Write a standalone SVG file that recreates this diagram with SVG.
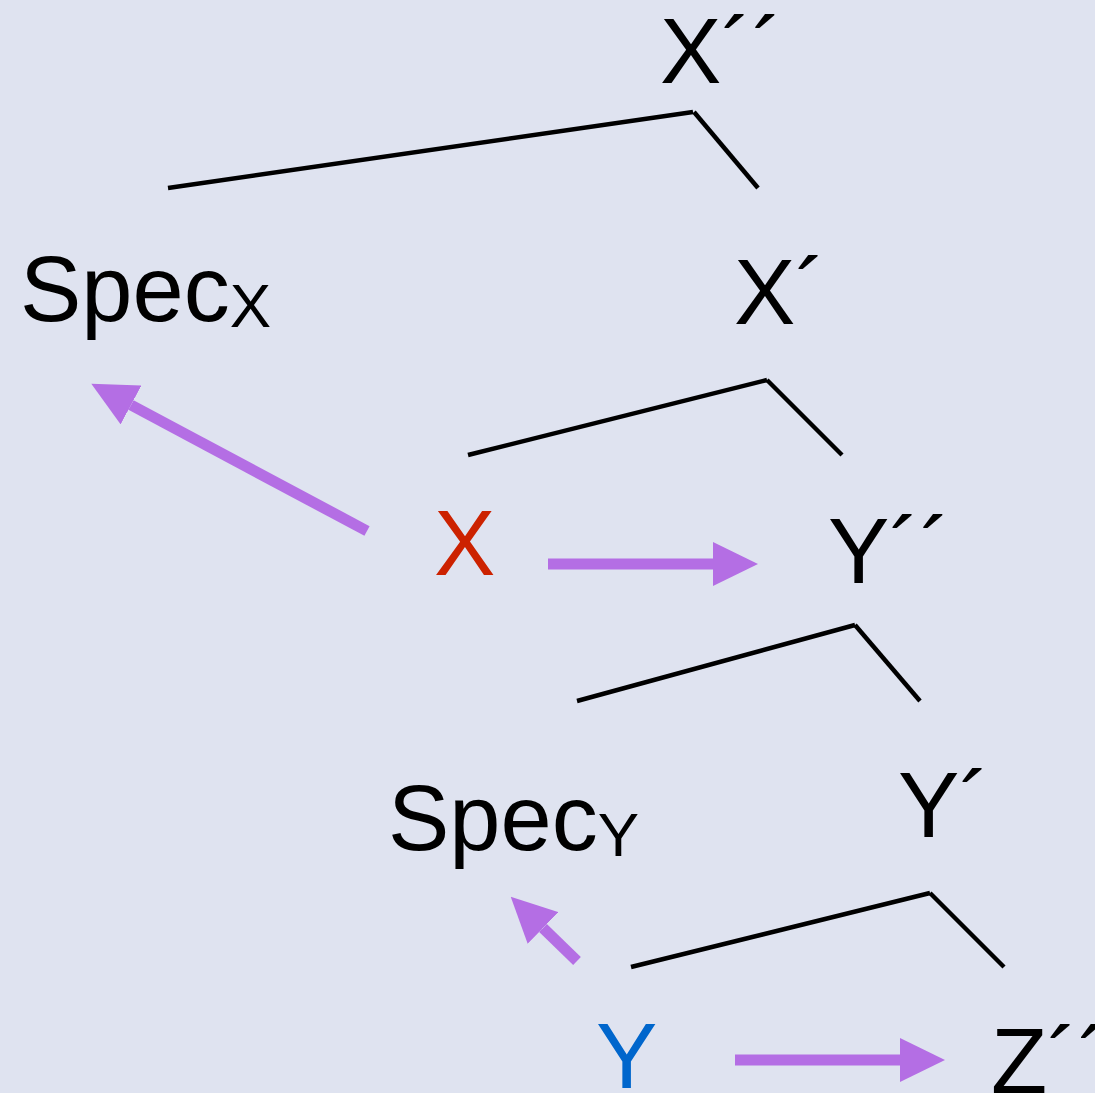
<svg xmlns="http://www.w3.org/2000/svg" width="1095" height="1093" viewBox="0 0 1095 1093">
<style>
.t{font-family:"Liberation Sans",Arial,sans-serif;font-size:92px;fill:#000}
.s{font-size:62px}
.br{stroke:#000;stroke-width:4.5;fill:none}
.ar{stroke:#b46ee4;stroke-width:11;fill:none}
</style>
<defs>
<marker id="ah" viewBox="0 0 45 44" markerUnits="userSpaceOnUse" markerWidth="45" markerHeight="44" refX="0" refY="22" orient="auto">
<path d="M0,0 L45,22 L0,44 Z" fill="#b46ee4"/>
</marker>
</defs>
<rect width="1095" height="1093" fill="#dfe3f0"/>
<g id="connectors">
<line class="br" x1="168" y1="188" x2="693" y2="112"/>
<line class="br" x1="694" y1="112" x2="758" y2="188"/>
<line class="br" x1="468" y1="455" x2="767" y2="380"/>
<line class="br" x1="767" y1="380" x2="842" y2="455"/>
<line class="br" x1="577" y1="701" x2="855" y2="625"/>
<line class="br" x1="855" y1="625" x2="920" y2="701"/>
<line class="br" x1="631" y1="967" x2="930" y2="893"/>
<line class="br" x1="930" y1="893" x2="1004" y2="967"/>
<line class="ar" x1="367" y1="531" x2="131" y2="405" marker-end="url(#ah)"/>
<line class="ar" x1="548" y1="564" x2="713" y2="564" marker-end="url(#ah)"/>
<line class="ar" x1="577" y1="961" x2="543" y2="928" marker-end="url(#ah)"/>
<line class="ar" x1="735" y1="1060" x2="900" y2="1060" marker-end="url(#ah)"/>
</g>
<g id="Xbar2"><text class="t" x="660" y="83">X´´</text></g>
<g id="SpecX"><text class="t" x="20" y="321">Spec<tspan class="s" dy="6">X</tspan></text></g>
<g id="Xbar1"><text class="t" x="734" y="324">X´</text></g>
<g id="X"><text class="t" x="434" y="575" style="fill:#cc2200">X</text></g>
<g id="Ybar2"><text class="t" x="828" y="583">Y´´</text></g>
<g id="SpecY"><text class="t" x="388" y="850">Spec<tspan class="s" dy="6">Y</tspan></text></g>
<g id="Ybar1"><text class="t" x="898" y="837">Y´</text></g>
<g id="Y"><text class="t" x="596" y="1088" style="fill:#0066cc">Y</text></g>
<g id="Zbar2"><text class="t" x="991" y="1093">Z´´</text></g>
</svg>
